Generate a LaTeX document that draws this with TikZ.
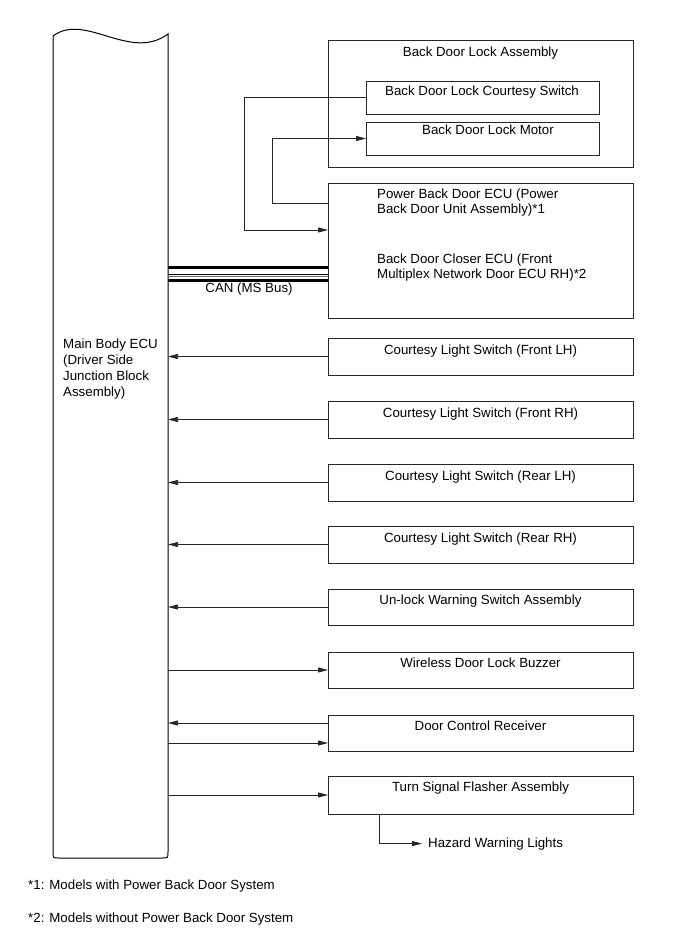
\documentclass[tikz,border=0pt]{standalone}
\usepackage{fontspec}
\setmainfont{Liberation Sans}
\usetikzlibrary{arrows.meta}
\begin{document}
\begin{tikzpicture}[x=1pt,y=-1pt,
  box/.style={draw=black!85, line width=1pt, inner sep=0pt, outer sep=0pt, anchor=north west, minimum width=305pt},
  inbox/.style={box, minimum width=233pt, minimum height=33pt},
  lbl/.style={font=\fontsize{13.3}{16}\selectfont, anchor=base, inner sep=0pt},
  lblw/.style={lbl, anchor=base west},
  wire/.style={draw=black!85, line width=0.75pt},
  arr/.style={wire, -{Triangle[length=10pt,width=5pt]}}]
\useasboundingbox (0,0) rectangle (689,951);

% Main Body ECU outline
\draw[line width=1pt] (53,36) .. controls (85,12) and (130,62) .. (168,34)
  -- (168,852) .. controls (168,858) .. (162,858) -- (59,858)
  .. controls (53,858) .. (53,852) -- cycle;
\coordinate (ecuR) at (168,0);
\node[font=\fontsize{13.3}{16}\selectfont, align=left, anchor=north west, inner sep=0pt] (ecu) at (63,338.5)
  {Main Body ECU\\(Driver Side\\Junction Block\\Assembly)};

% Back door lock assembly
\node[box, minimum height=127pt] (bda) at (328,40) {};
\node[lbl] (bdat) at (480.5,56.5) {Back Door Lock Assembly};
\node[inbox] (sw) at (366,81) {};
\node[lbl] (swt) at (482,95) {Back Door Lock Courtesy Switch};
\node[inbox] (mot) at (366,122) {};
\node[lbl] (mott) at (488,134) {Back Door Lock Motor};

% Power back door ECU
\node[box, minimum height=135pt] (pbd) at (328,183) {};
\node[lblw] (p1) at (377,198) {Power Back Door ECU (Power};
\node[lblw] (p2) at (377,213) {Back Door Unit Assembly)*1};
\node[lblw] (p3) at (377,263) {Back Door Closer ECU (Front};
\node[lblw] (p4) at (377,278) {Multiplex Network Door ECU RH)*2};

\coordinate (c1) at (244,230);
\coordinate (c2) at (272,203);
\draw[arr] (sw.west) -| (c1) -- (c1 -| pbd.west);
\draw[arr] (c2 -| pbd.west) -- (c2) |- (mot.west);

% CAN bus
\draw[line width=3pt] (ecuR |- 0,267.5) -- (pbd.west |- 0,267.5);
\draw[line width=0.8pt] (ecuR |- 0,274) -- (pbd.west |- 0,274);
\draw[line width=0.8pt, black!60] (ecuR |- 0,276.7) -- (pbd.west |- 0,276.7);
\draw[line width=2.7pt] (ecuR |- 0,280.7) -- (pbd.west |- 0,280.7);
\node[lbl] (can) at (249,292) {CAN (MS Bus)};

% Switch boxes
\node[box, minimum height=37pt] (flh) at (328,338) {};
\node[lbl] (flht) at (480.5,354) {Courtesy Light Switch (Front LH)};
\node[box, minimum height=37pt] (frh) at (328,401) {};
\node[lbl] (frht) at (480.5,417) {Courtesy Light Switch (Front RH)};
\node[box, minimum height=37pt] (rlh) at (328,464) {};
\node[lbl] (rlht) at (480.5,480) {Courtesy Light Switch (Rear LH)};
\node[box, minimum height=37pt] (rrh) at (328,526) {};
\node[lbl] (rrht) at (480.5,542) {Courtesy Light Switch (Rear RH)};
\node[box, minimum height=36pt] (unl) at (328,589) {};
\node[lbl] (unlt) at (480.5,604) {Un-lock Warning Switch Assembly};
\node[box, minimum height=36pt] (wdl) at (328,652) {};
\node[lbl] (wdlt) at (480.5,667) {Wireless Door Lock Buzzer};
\node[box, minimum height=36pt] (dcr) at (328,715) {};
\node[lbl] (dcrt) at (480.5,730) {Door Control Receiver};
\node[box, minimum height=38pt] (tsf) at (328,776) {};
\node[lbl] (tsft) at (480.5,791) {Turn Signal Flasher Assembly};

\draw[arr] (flh.west) -- (flh.west -| ecuR);
\draw[arr] (frh.west) -- (frh.west -| ecuR);
\draw[arr] (rlh.west) -- (rlh.west -| ecuR);
\draw[arr] (rrh.west) -- (rrh.west -| ecuR);
\draw[arr] (unl.west) -- (unl.west -| ecuR);
\draw[arr] (ecuR |- wdl.west) -- (wdl.west);
\draw[arr] (dcr.west |- 0,723) -- (ecuR |- 0,723);
\draw[arr] (ecuR |- 0,743) -- (dcr.west |- 0,743);
\draw[arr] (ecuR |- tsf.west) -- (tsf.west);

% Hazard
\node[lblw] (hzt) at (428,847) {Hazard Warning Lights};
\coordinate (hz) at (379,843);
\draw[arr] (tsf.south -| hz) |- ([xshift=-6pt]hzt.west);

% Footnotes
\node[lblw] (f1) at (28,889) {*1: Models with Power Back Door System};
\node[lblw] (f2) at (28,922) {*2: Models without Power Back Door System};
\end{tikzpicture}
\end{document}
